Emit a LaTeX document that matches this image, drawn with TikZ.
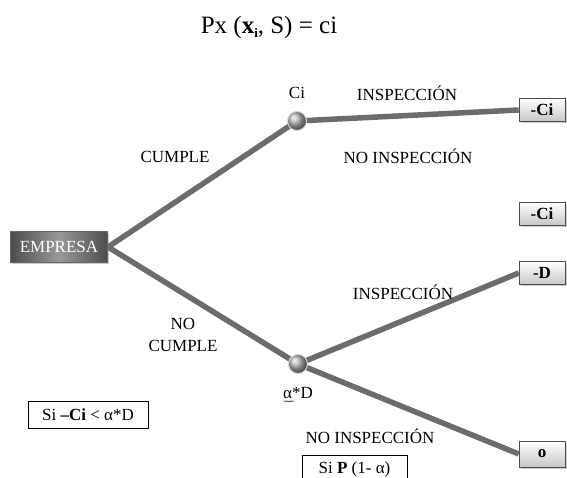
\documentclass[tikz,border=0pt]{standalone}
\usepackage{fontspec}
\setmainfont{Liberation Serif}
\usetikzlibrary{shadows,decorations.pathmorphing}
\definecolor{branch}{RGB}{108,108,108}
\tikzset{
  branchline/.style={line width=5.5pt, draw=branch, line cap=butt},
  leafbox/.style={draw=black!70, line width=0.6pt, top color=white, bottom color=black!22,
    minimum width=46pt, minimum height=23pt, inner sep=0pt, font=\fontsize{17}{17}\selectfont\bfseries,
    drop shadow={shadow xshift=1.5pt, shadow yshift=-1.5pt, opacity=0.4}},
  chance/.style={circle, minimum size=19pt, inner sep=0pt, draw=white!85!black, line width=1pt,
    ball color=black!30, shading=ball},
  lbl/.style={font=\fontsize{17}{17}\selectfont, inner sep=1pt},
  condbox/.style={draw=black, line width=0.7pt, inner sep=0pt, font=\fontsize{17}{17}\selectfont}
}
\begin{document}
\begin{tikzpicture}[x=1pt,y=-1pt]
\useasboundingbox (0,0) rectangle (567,478);
\fill[white] (0,0) rectangle (567,478);

% title
\node[font=\fontsize{25}{25}\selectfont] (title) at (269,27) {Px (\textbf{x}\raisebox{-4pt}{\fontsize{13}{13}\selectfont\textbf{i}}, S) = ci};

% root
\node[draw=black!60, line width=0.6pt, left color=black!70, right color=black!70, middle color=black!40,
  minimum width=97pt, minimum height=31pt, inner sep=0pt, text=white,
  font=\fontsize{17}{17}\selectfont,
  drop shadow={shadow xshift=1.5pt, shadow yshift=-1.5pt, opacity=0.4}] (emp) at (59,247) {EMPRESA};
\coordinate (empR) at (108,247);

% leaf boxes
\node[leafbox] (l1) at (542,110) {-Ci};
\node[leafbox] (l2) at (542,214) {-Ci};
\node[leafbox] (l3) at (542,273) {-D};
\node[leafbox, minimum height=26pt] (l4) at (542,454) {o};

% chance nodes positions
\coordinate (c1) at (297,121);
\coordinate (c2) at (298,364);

% branches
\draw[branchline] (empR) -- (c1);
\draw[branchline] (empR) -- (c2);
\draw[branchline] (c1) -- (l1.west);
\draw[branchline] (c2) -- (l3.west);
\draw[branchline] (c2) -- (l4.west);

\node[chance] (n1) at (c1) {};
\node[chance] (n2) at (c2) {};

% labels
\node[lbl] (ci) at (297,93) {Ci};
\node[lbl] (insp1) at (407,93) {INSPECCIÓN};
\node[lbl] (noinsp1) at (408,156) {NO INSPECCIÓN};
\node[lbl] (cumple) at (175,157) {CUMPLE};
\node[lbl, align=center] (nocumple) at (183,335) {NO\\[5pt]CUMPLE};
\node[lbl] (insp2) at (403,292) {INSPECCIÓN};
\node[lbl] (ad) at (298,393) {α*D};
\draw[decorate, decoration={snake, amplitude=0.7pt, segment length=2.5pt}, line width=0.5pt, black!80]
  (ad.south west) ++(2,1.5) coordinate (w1) -- ++(10,0) coordinate (w2);
\node[lbl] (noinsp2) at (370,436) {NO INSPECCIÓN};

% condition boxes
\node[condbox, minimum width=120pt, minimum height=27pt] (cond1) at (88,414.5) {Si \textbf{–Ci} < α*D};
\node[condbox, minimum width=105pt, minimum height=28pt] (cond2) at (354.5,469) {Si \textbf{P} (1- α)};
\end{tikzpicture}
\end{document}
